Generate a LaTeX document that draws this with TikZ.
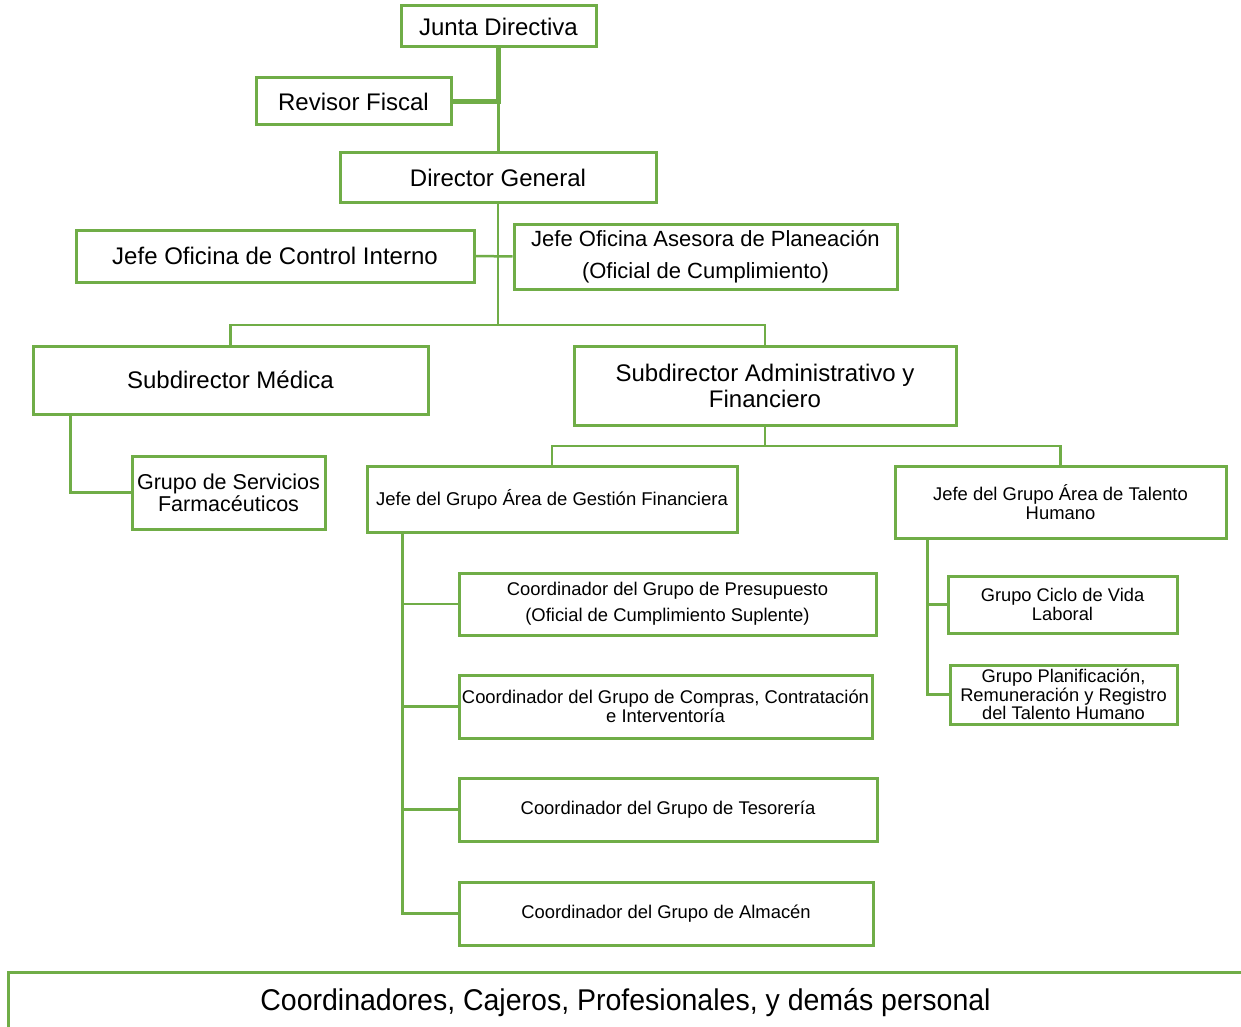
\documentclass[tikz,border=0pt]{standalone}
\usepackage{fontspec}
\setmainfont{Liberation Sans}
\newfontfamily\condfont{Liberation Sans}[FakeStretch=0.95]
\usetikzlibrary{positioning}
\definecolor{verde}{RGB}{112,173,71}
\tikzset{
  caja/.style={draw=verde, line width=3pt, align=center, inner sep=0pt},
  enlace/.style={draw=verde, line width=2.5pt},
  enlacegrueso/.style={draw=verde, line width=4.5pt},
}
\newcommand{\fs}[2]{\fontsize{#1}{#2}\selectfont}
\begin{document}
\begin{tikzpicture}[x=1pt,y=-1pt]
  \clip (0,0) rectangle (1241,1027);
  \fill[white] (0,0) rectangle (1241,1027);

  % Top of the chart
  \node[caja, minimum width=195pt, minimum height=41pt, font=\fs{24}{28}] (junta) at (498.5,26.5) {Junta Directiva};
  \node[caja, minimum width=195pt, minimum height=47pt, font=\fs{24}{28}] (revisor) at (353.5,101.5) {Revisor Fiscal};
  \node[caja, minimum width=316pt, minimum height=49pt, font=\fs{24}{28}] (director) at (498,177.5) {Director General};

  % Advisory offices
  \node[caja, minimum width=398pt, minimum height=52pt, font=\fs{24}{28}] (control) at (275,256) {Jefe Oficina de Control Interno};
  \node[caja, minimum width=383pt, minimum height=65pt, font=\fs{22}{32}] (planeacion) at (705.5,256.5) {Jefe Oficina Asesora de Planeación\\(Oficial de Cumplimiento)};

  % Sub-directions
  \node[caja, minimum width=395pt, minimum height=68pt, font=\fs{24}{28}] (submed) at (230.5,380) {Subdirector Médica};
  \node[caja, minimum width=382pt, minimum height=79pt, font=\fs{24}{26}] (subadm) at (765,385.5) {Subdirector Administrativo y\\Financiero};
  \node[caja, minimum width=193pt, minimum height=73pt, font=\fs{21.5}{22}] (farma) at (228.5,492.5) {Grupo de Servicios\\Farmacéuticos};

  % Group heads
  \node[caja, minimum width=370pt, minimum height=66pt, font=\fs{18.5}{22}] (gestion) at (552,499) {Jefe del Grupo Área de Gestión Financiera};
  \node[caja, minimum width=331pt, minimum height=72pt, font=\fs{18.4}{18.5}] (talento) at (1060.5,502) {Jefe del Grupo Área de Talento\\Humano};

  % Talento Humano groups
  \node[caja, minimum width=229pt, minimum height=57pt, font=\fs{18.3}{19}] (ciclo) at (1062.5,604.5) {Grupo Ciclo de Vida\\Laboral};
  \node[caja, minimum width=227pt, minimum height=59pt, font=\fs{18.3}{18.5}] (planif) at (1063.5,694.5) {Grupo Planificación,\\Remuneración y Registro\\del Talento Humano};

  % Gestion Financiera groups
  \node[caja, minimum width=417pt, minimum height=62pt, font=\fs{18.4}{26}] (presup) at (667.5,604) {Coordinador del Grupo de Presupuesto\\(Oficial de Cumplimiento Suplente)};
  \node[caja, minimum width=413pt, minimum height=63pt, font=\fs{18.4}{19}] (compras) at (665.5,706.5) {Coordinador del Grupo de Compras, Contratación\\e Interventoría};
  \node[caja, minimum width=418pt, minimum height=63pt, font=\fs{18.4}{22}] (tesoreria) at (668,809.5) {Coordinador del Grupo de Tesorería};
  \node[caja, minimum width=414pt, minimum height=63pt, font=\fs{18.4}{22}] (almacen) at (666,913.5) {Coordinador del Grupo de Almacén};

  % Bottom band
  \node[caja, minimum width=1235pt, minimum height=62pt, font=\condfont\fs{30}{34}] (personal) at (625.5,1003) {Coordinadores, Cajeros, Profesionales, y demás personal};

  % Junction points
  \coordinate (jr) at (junta.south |- revisor.east);
  \coordinate (bus1) at (498,325);
  \coordinate (bus2) at (765,446);
  \coordinate (m0) at ([xshift=39pt]submed.south west);
  \coordinate (g0) at ([xshift=37pt]gestion.south west);
  \coordinate (t0) at ([xshift=34pt]talento.south west);

  % Connectors
  \draw[enlacegrueso] (junta.south) -- (jr) -- (revisor.east);
  \draw[enlace] (jr) -- (jr |- director.north);
  \draw[enlace] (director.south) -- (bus1);
  \draw[enlace] (control.east) -- (planeacion.west);
  \draw[enlace] (submed.north) |- (bus1) -| (subadm.north);
  \draw[enlace] (m0) |- (farma.west);
  \draw[enlace] (subadm.south) -- (bus2);
  \draw[enlace] (gestion.north) |- (bus2) -| (talento.north);
  \draw[enlace] (g0) |- (almacen.west);
  \foreach \n in {presup,compras,tesoreria}
    \draw[enlace] (g0 |- \n.west) -- (\n.west);
  \draw[enlace] (t0) |- (planif.west);
  \draw[enlace] (t0 |- ciclo.west) -- (ciclo.west);
\end{tikzpicture}
\end{document}
